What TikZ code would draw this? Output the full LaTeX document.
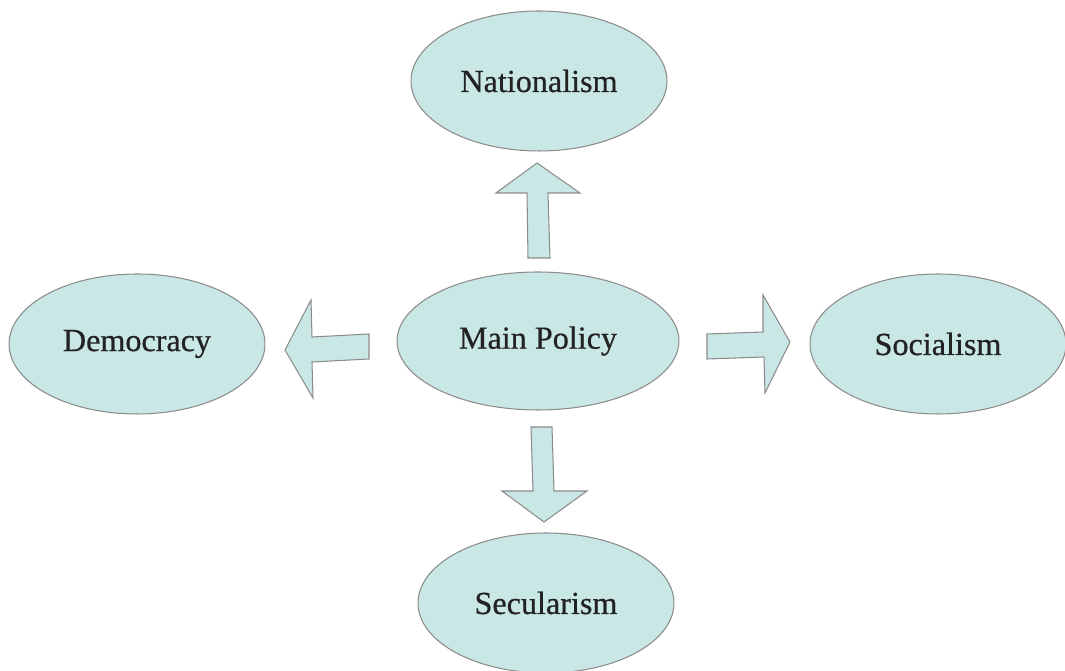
\documentclass[tikz,border=0pt]{standalone}
\usepackage{fontspec}
\setmainfont{Liberation Serif}[FakeBold=0.6]
\usetikzlibrary{shapes.geometric}
\definecolor{bubble}{HTML}{C9E7E5}
\definecolor{rim}{HTML}{8C8C8C}
\definecolor{ink}{HTML}{222222}
\tikzset{
    idea/.style={ellipse, draw=rim, fill=bubble, line width=0.6pt, inner sep=0pt,
        minimum width=5.12cm, minimum height=2.8cm, text=ink, font=\fontsize{18.3}{21}\selectfont},
    blockarrow/.style={draw=rim, fill=bubble, line width=0.6pt, line join=miter}
}
\begin{document}
\begin{tikzpicture}[x=0.02cm, y=-0.02cm]
    \useasboundingbox (0,0) rectangle (1065,671);
    \node[idea] (nationalism) at (539,81) {Nationalism};
    \node[idea, minimum width=5.64cm, minimum height=2.76cm] (policy) at (538,341) {Main Policy};
    \node[idea] (democracy) at (137,344) {Democracy};
    \node[idea] (socialism) at (938,344) {Socialism};
    \node[idea] (secularism) at (546,603) {Secularism};
    % up
    \draw[blockarrow] (528,258) -- (527,193) -- (496,193) -- (537,163) -- (580,193) -- (548,193) -- (550,258) -- cycle;
    % left
    \draw[blockarrow] (369,334) -- (312,337) -- (311,300) -- (285,350) -- (313,398) -- (312,362) -- (369,359) -- cycle;
    % right
    \draw[blockarrow] (707,334) -- (763,332) -- (763,295) -- (790,342) -- (765,393) -- (764,357) -- (707,359) -- cycle;
    % down
    \draw[blockarrow] (531,427) -- (533,491) -- (502,491) -- (544,522) -- (587,491) -- (554,491) -- (552,427) -- cycle;
\end{tikzpicture}
\end{document}
